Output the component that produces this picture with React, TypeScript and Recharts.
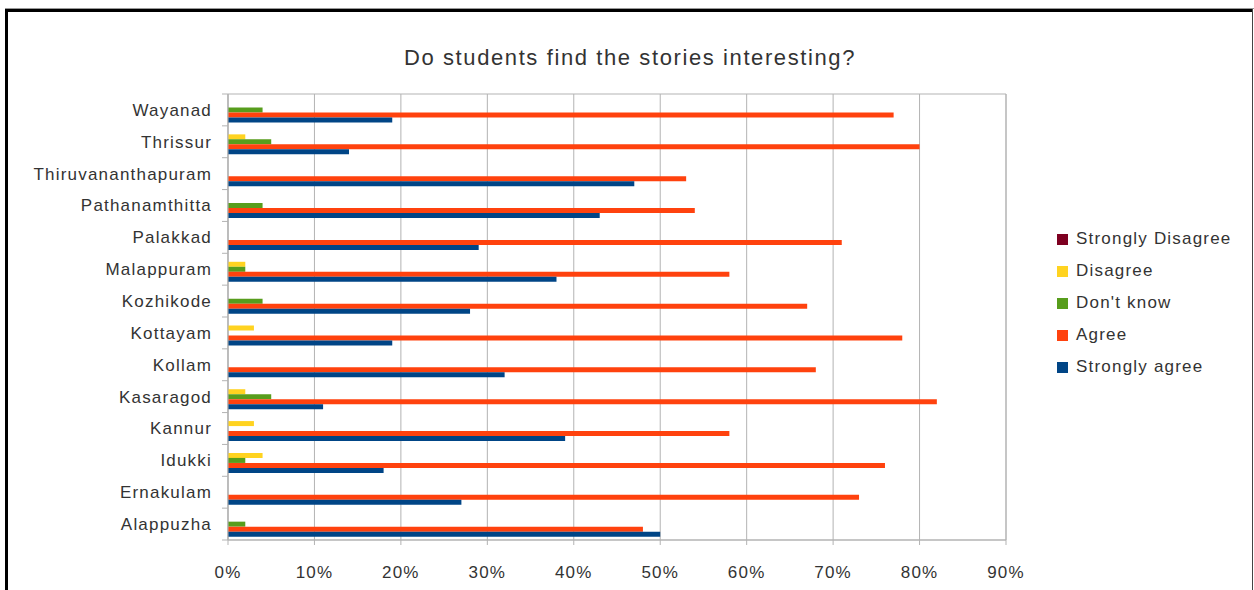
import React from "react";
import {
  BarChart,
  Bar,
  XAxis,
  YAxis,
  CartesianGrid,
  ReferenceArea,
} from "recharts";

// districts, top to bottom as drawn
const districts = [
  "Wayanad",
  "Thrissur",
  "Thiruvananthapuram",
  "Pathanamthitta",
  "Palakkad",
  "Malappuram",
  "Kozhikode",
  "Kottayam",
  "Kollam",
  "Kasaragod",
  "Kannur",
  "Idukki",
  "Ernakulam",
  "Alappuzha",
];

// percentages
const stronglyDisagree = [0, 0, 0, 0, 0, 0, 0, 0, 0, 0, 0, 0, 0, 0];
const disagree = [0, 2, 0, 0, 0, 2, 0, 3, 0, 2, 3, 4, 0, 0];
const dontKnow = [4, 5, 0, 4, 0, 2, 4, 0, 0, 5, 0, 2, 0, 2];
const agree = [77, 80, 53, 54, 71, 58, 67, 78, 68, 82, 58, 76, 73, 48];
const stronglyAgree = [19, 14, 47, 43, 29, 38, 28, 19, 32, 11, 39, 18, 27, 50];

const xTicks = [0, 10, 20, 30, 40, 50, 60, 70, 80, 90];

const series = [
  { key: "sd", name: "Strongly Disagree", color: "#7e0021", values: stronglyDisagree },
  { key: "d", name: "Disagree", color: "#ffd320", values: disagree },
  { key: "dk", name: "Don't know", color: "#579d1c", values: dontKnow },
  { key: "a", name: "Agree", color: "#ff420e", values: agree },
  { key: "sa", name: "Strongly agree", color: "#004586", values: stronglyAgree },
];

const data = districts.map((name, i) => {
  const row: Record<string, string | number> = { name };
  series.forEach((s) => {
    row[s.key] = s.values[i];
  });
  return row;
});

const W = 1254;
const H = 590;
const M = { top: 94, right: 248, bottom: 20, left: 0 };
const Y_W = 228;
const X_H = 30;
const GRID = "#b3b3b3";
const TEXT = "#333333";
const FONT = "'Liberation Sans', Arial, sans-serif";

const plotH = H - M.top - M.bottom - X_H;
const band = plotH / districts.length;

function DistrictTick(props: any) {
  const { x, y, payload, index } = props;
  const axisX = x + 16;
  return (
    <g>
      <text
        x={x}
        y={y}
        dy="0.35em"
        textAnchor="end"
        fill={TEXT}
        fontSize={17}
        fontFamily={FONT}
        letterSpacing={1.2}
      >
        {payload.value}
      </text>
      <line x1={axisX - 6} x2={axisX} y1={y - band / 2} y2={y - band / 2} stroke={GRID} />
      {index === districts.length - 1 && (
        <line x1={axisX - 6} x2={axisX} y1={y + band / 2} y2={y + band / 2} stroke={GRID} />
      )}
    </g>
  );
}

export default function App() {
  return (
    <div
      style={{
        position: "relative",
        width: W,
        height: H,
        overflow: "hidden",
        background: "#fff",
        fontFamily: FONT,
      }}
    >
      <style>{"body{margin:0}"}</style>
      {/* page frame */}
      <div style={{ position: "absolute", left: 5, top: 8, width: 1249, height: 1, background: "#999" }} />
      <div style={{ position: "absolute", left: 5, top: 9, width: 1248, height: 3, background: "#000" }} />
      <div style={{ position: "absolute", left: 5, top: 9, width: 3, height: H - 9, background: "#000" }} />
      <div style={{ position: "absolute", left: 1252, top: 9, width: 1, height: H - 9, background: "#444" }} />
      <div
        style={{
          position: "absolute",
          left: 8,
          top: 45,
          width: 1244,
          textAlign: "center",
          fontSize: 22,
          letterSpacing: 1.6,
          color: TEXT,
        }}
      >
        Do students find the stories interesting?
      </div>
      <div style={{ position: "absolute", left: 0, top: 0 }}>
        <BarChart
          width={W}
          height={H}
          data={data}
          layout="vertical"
          margin={M}
          barCategoryGap="11%"
          barGap={0}
        >
          <CartesianGrid horizontal={false} stroke={GRID} />
          <ReferenceArea x1={0} x2={90} fill="none" stroke={GRID} />
          <XAxis
            type="number"
            domain={[0, 90]}
            ticks={xTicks}
            interval={0}
            height={X_H}
            stroke={GRID}
            tickSize={5}
            tickMargin={21}
            tickFormatter={(v) => `${v}%`}
            tick={{ fill: TEXT, fontSize: 17, fontFamily: FONT, letterSpacing: 1.2 }}
          />
          <YAxis
            type="category"
            dataKey="name"
            width={Y_W}
            stroke={GRID}
            tickLine={false}
            tickSize={6}
            tickMargin={10}
            interval={0}
            tick={<DistrictTick />}
          />
          {series.map((s) => (
            <Bar
              key={s.key}
              dataKey={s.key}
              name={s.name}
              fill={s.color}
              isAnimationActive={false}
            />
          ))}
        </BarChart>
      </div>
      <div style={{ position: "absolute", left: 1057, top: 223 }}>
        {series.map((s) => (
          <div
            key={s.key}
            style={{
              display: "flex",
              alignItems: "center",
              height: 32,
              fontSize: 17,
              letterSpacing: 1.2,
              color: TEXT,
            }}
          >
            <span
              style={{
                display: "inline-block",
                width: 11,
                height: 11,
                background: s.color,
                marginRight: 8,
              }}
            />
            {s.name}
          </div>
        ))}
      </div>
    </div>
  );
}
